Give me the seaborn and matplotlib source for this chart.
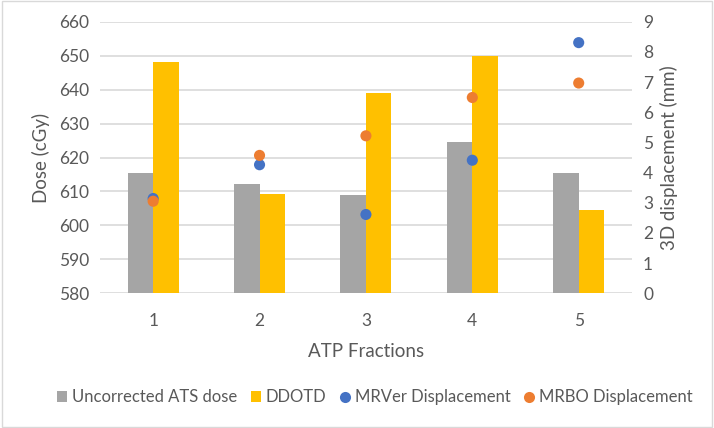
import seaborn as sns
import matplotlib.pyplot as plt
import pandas as pd
from matplotlib.patches import Rectangle

fractions = ["1", "2", "3", "4", "5"]
uncorrected_dose = [615.3, 612.1, 608.9, 624.7, 615.3]
ddotd = [648.1, 609.2, 639.0, 649.8, 604.4]
mrver_disp = [3.14, 4.26, 2.61, 4.41, 8.31]
mrbo_disp = [3.05, 4.57, 5.22, 6.49, 6.97]

bar_names = ["Uncorrected ATS dose", "DDOTD"]
dot_names = ["MRVer Displacement", "MRBO Displacement"]
bar_colors = ["#A5A5A5", "#FFC000"]
dot_colors = ["#4472C4", "#ED7D31"]
text_color = "#595959"

if __name__ == "__main__":
    sns.set_theme(style="white")
    plt.rcParams["font.family"] = ["Lato", "DejaVu Sans"]

    bars = pd.DataFrame({
        "fraction": fractions * 2,
        "dose": uncorrected_dose + ddotd,
        "series": [bar_names[0]] * 5 + [bar_names[1]] * 5,
    })
    dots = pd.DataFrame({
        "fraction": fractions * 2,
        "disp": mrver_disp + mrbo_disp,
        "series": [dot_names[0]] * 5 + [dot_names[1]] * 5,
    })

    fig = plt.figure(figsize=(7.14, 4.28), dpi=100)
    ax = fig.add_axes([0.140, 0.315, 0.745, 0.634])

    sns.barplot(data=bars, x="fraction", y="dose", hue="series",
                palette=bar_colors, width=0.48, saturation=1, linewidth=0,
                ax=ax)
    ax.set_ylim(580, 660)
    ax.set_yticks(range(580, 661, 10))
    ax.set_xlim(-0.5, 4.5)
    ax.grid(axis="y", color="#D9D9D9", linewidth=1.2)
    ax.set_axisbelow(True)

    ax2 = ax.twinx()
    sns.stripplot(data=dots, x="fraction", y="disp", hue="series",
                  palette=dot_colors, jitter=False, size=8, linewidth=0,
                  ax=ax2)
    ax2.set_ylim(0, 9)
    ax2.set_yticks(range(0, 10))
    ax2.set_xlim(-0.5, 4.5)

    for a in (ax, ax2):
        for sp in a.spines.values():
            sp.set_visible(False)
        a.tick_params(length=0, labelsize=12.5, colors=text_color, pad=8)
    ax.tick_params(axis="x", pad=14)

    ax.set_xlabel("ATP Fractions", fontsize=13.5, color=text_color, labelpad=10)
    ax.set_ylabel("Dose (cGy)", fontsize=13.5, color=text_color, labelpad=6)
    ax2.set_ylabel("3D displacement (mm)", fontsize=13.5, color=text_color, labelpad=5)

    h1, l1 = ax.get_legend_handles_labels()
    h2, l2 = ax2.get_legend_handles_labels()
    ax.get_legend().remove()
    ax2.get_legend().remove()
    fig.legend(h1 + h2, l1 + l2, loc="center", bbox_to_anchor=(0.525, 0.072),
               ncol=4, frameon=False, fontsize=12, labelcolor=text_color,
               handlelength=0.6, handleheight=0.6, handletextpad=0.3,
               columnspacing=0.8, markerscale=1.0)

    fig.patches.append(Rectangle((0.003, 0.003), 0.994, 0.994, transform=fig.transFigure,
                                 fill=False, edgecolor="#D9D9D9", linewidth=1))

    plt.savefig("out.png", dpi=100)
